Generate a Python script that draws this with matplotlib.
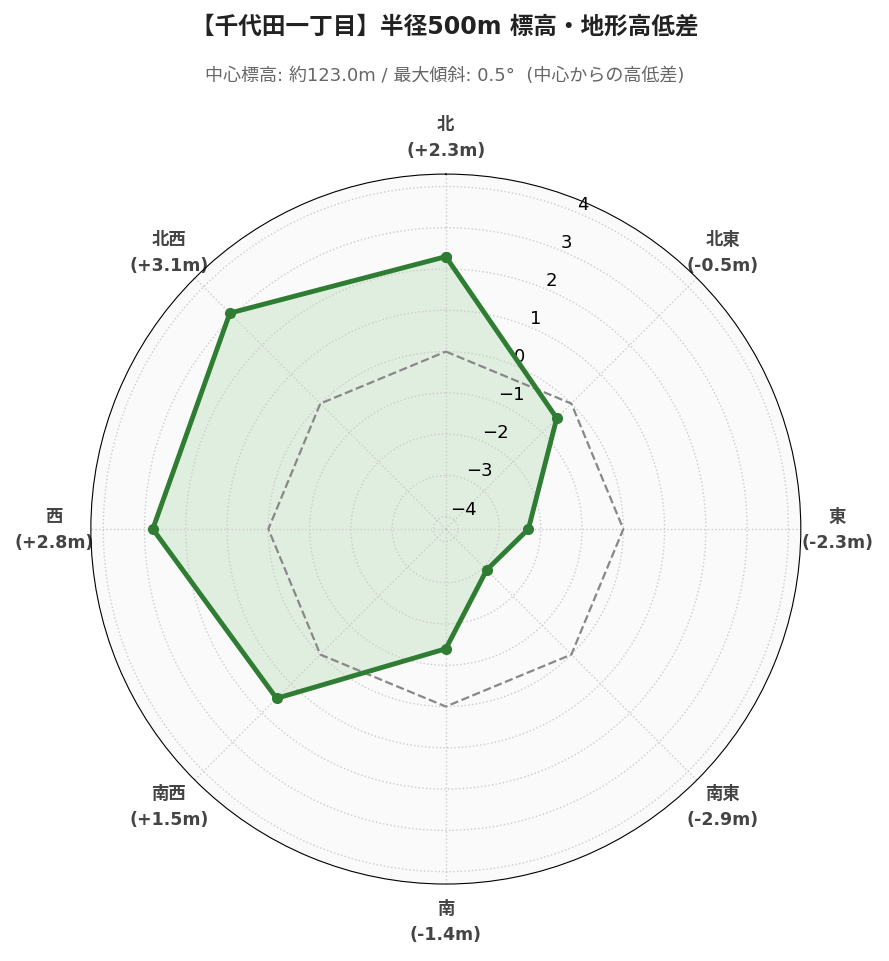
import numpy as np
import matplotlib.pyplot as plt

plt.rcParams['font.family'] = ['DejaVu Sans', 'Noto Sans CJK JP']

directions = ['北', '北東', '東', '南東', '南', '南西', '西', '北西']
diffs = [2.3, -0.5, -2.3, -2.9, -1.4, 1.5, 2.8, 3.1]
rticks = [-4, -3, -2, -1, 0, 1, 2, 3, 4]

n = len(directions)
theta = np.linspace(0, 2 * np.pi, n, endpoint=False)
tc = np.append(theta, theta[0])
vals = np.append(diffs, diffs[0])

fig = plt.figure(figsize=(8.89, 9.62), dpi=100)
ax = fig.add_axes([0.102, 0.080, 0.799, 0.738], projection='polar')
ax.set_theta_zero_location('N')
ax.set_theta_direction(-1)
ax.set_facecolor('#fafafa')
ax.set_ylim(-4.3, 4.3)

ax.plot(tc, np.zeros_like(tc), '--', color='#888888', lw=1.6)
ax.fill(tc, vals, color='#4caf50', alpha=0.15)
ax.plot(tc, vals, '-o', color='#2e7d32', lw=3.5, ms=7)

ax.set_xticks(theta)
ax.set_xticklabels([f'{d}\n({v:+.1f}m)' for d, v in zip(directions, diffs)],
                   fontsize=12.5, fontweight='bold', color='#444444', linespacing=1.6)
ax.tick_params(axis='x', pad=16)
ax.set_yticks(rticks)
ax.set_yticklabels([f'{t}'.replace('-', '\u2212') for t in rticks], fontsize=13)
ax.set_rlabel_position(22.5)
ax.grid(color='#cccccc', ls=':', lw=1)
ax.spines['polar'].set_color('black')

fig.text(0.5, 0.972, '【千代田一丁目】半径500m 標高・地形高低差', ha='center', va='center',
         fontsize=17, fontweight='bold', color='#222222')
fig.text(0.5, 0.921, '中心標高: 約123.0m / 最大傾斜: 0.5°  (中心からの高低差)', ha='center',
         va='center', fontsize=13, color='#666666')

fig.savefig('out.png', dpi=100)
